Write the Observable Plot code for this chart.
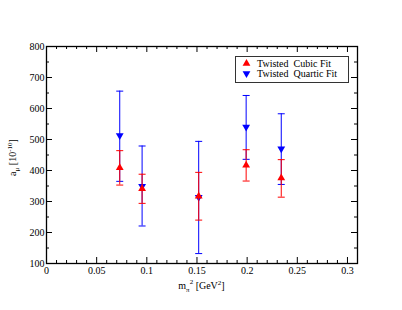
<!DOCTYPE html>
<html><head><meta charset="utf-8">
<script src="https://cdn.jsdelivr.net/npm/d3@7"></script>
<script src="https://cdn.jsdelivr.net/npm/@observablehq/plot@0.6"></script>
<style>body{margin:0;background:#fff} svg{display:block}</style>
</head><body><div id="chart"></div>
<script>
// data
const mpi2 = [0.073, 0.0953, 0.1517, 0.199, 0.234];
const cubic = [409, 341, 317, 417, 376];
const cubicLo = [353, 294, 240, 366, 314];
const cubicHi = [464, 388, 394, 467, 435];
const quartic = [513, 349, 314, 540, 470];
const quarticLo = [365, 221, 132, 436, 355];
const quarticHi = [656, 479, 494, 642, 583];
const seriesNames = ["Twisted  Cubic Fit", "Twisted  Quartic Fit"];
const xMajor = [0, 0.05, 0.1, 0.15, 0.2, 0.25, 0.3];
const xMinor = [0.01,0.02,0.03,0.04,0.06,0.07,0.08,0.09,0.11,0.12,0.13,0.14,0.16,0.17,0.18,0.19,0.21,0.22,0.23,0.24,0.26,0.27,0.28,0.29,0.31];
const yMajor = [100, 200, 300, 400, 500, 600, 700, 800];
const yMinor = [150, 250, 350, 450, 550, 650, 750];

const W = 402, H = 310, mL = 46, mR = 45, mT = 46, mB = 47;
const innerW = W - mL - mR, innerH = H - mT - mB;
const RED = "#ff0000", BLUE = "#0000ff";

const cubicRows = mpi2.map((x, i) => ({x, y: cubic[i], lo: cubicLo[i], hi: cubicHi[i]}));
const quartRows = mpi2.map((x, i) => ({x, y: quartic[i], lo: quarticLo[i], hi: quarticHi[i]}));

const cap = {draw(ctx) { ctx.moveTo(-3.5, 0); ctx.lineTo(3.5, 0); }};

function series(rows, color, rotate) {
  return [
    Plot.ruleX(rows, {x: "x", y1: "lo", y2: "hi", stroke: color, strokeWidth: 1}),
    Plot.dot(rows, {x: "x", y: "lo", symbol: cap, stroke: color, fill: "none", strokeWidth: 1}),
    Plot.dot(rows, {x: "x", y: "hi", symbol: cap, stroke: color, fill: "none", strokeWidth: 1}),
    Plot.dot(rows, {x: "x", y: "y", symbol: "triangle", rotate, fill: color, stroke: "none", r: 2.9})
  ];
}

const plot = Plot.plot({
  width: W, height: H,
  marginLeft: mL, marginRight: mR, marginTop: mT, marginBottom: mB,
  style: {fontFamily: "'Liberation Serif', 'Times New Roman', serif", fontSize: "10px", background: "#fff", color: "#000"},
  x: {domain: [0, 0.31]},
  y: {domain: [100, 800]},
  marks: [
    Plot.ruleX(xMinor, {insetTop: innerH - 3, stroke: "#000"}),
    Plot.ruleX(xMinor, {insetBottom: innerH - 3, stroke: "#000"}),
    Plot.ruleX(xMajor, {insetTop: innerH - 6, stroke: "#000"}),
    Plot.ruleX(xMajor, {insetBottom: innerH - 6, stroke: "#000"}),
    Plot.ruleY(yMinor, {insetRight: innerW - 3, stroke: "#000"}),
    Plot.ruleY(yMinor, {insetLeft: innerW - 3, stroke: "#000"}),
    Plot.ruleY(yMajor, {insetRight: innerW - 6, stroke: "#000"}),
    Plot.ruleY(yMajor, {insetLeft: innerW - 6, stroke: "#000"}),
    Plot.axisX(xMajor, {tickSize: 0, tickPadding: 3, tickFormat: d => String(d), label: null}),
    Plot.axisY(yMajor, {tickSize: 0, tickPadding: 2, label: null}),
    ...series(quartRows, BLUE, 180),
    ...series(cubicRows, RED, 0),
    Plot.frame({stroke: "#000", strokeWidth: 1.3})
  ]
});

const svg = d3.select(plot);
const font = "'Liberation Serif', 'Times New Roman', serif";

// x-axis title
const xt = svg.append("text").attr("x", mL + innerW / 2).attr("y", 289)
  .attr("text-anchor", "middle").attr("font-family", font).attr("font-size", 10).attr("fill", "#000");
xt.append("tspan").text("m");
xt.append("tspan").attr("font-size", 7).attr("dy", 3).text("π");
xt.append("tspan").attr("font-size", 7).attr("dy", -8).text("2");
xt.append("tspan").attr("dy", 5).text(" [GeV");
xt.append("tspan").attr("font-size", 7).attr("dy", -4).text("2");
xt.append("tspan").attr("dy", 4).text("]");

// y-axis title
const yt = svg.append("text").attr("transform", `translate(16,${mT + innerH / 2 + 3}) rotate(-90)`)
  .attr("text-anchor", "middle").attr("font-family", font).attr("font-size", 10).attr("fill", "#000");
yt.append("tspan").text("a");
yt.append("tspan").attr("font-size", 7).attr("dy", 3).text("μ");
yt.append("tspan").attr("dy", -3).text(" [10");
yt.append("tspan").attr("font-size", 7).attr("dy", -4).text("-10");
yt.append("tspan").attr("dy", 4).text("]");

// legend
const lg = svg.append("g");
lg.append("rect").attr("x", 235.5).attr("y", 56.5).attr("width", 113).attr("height", 26)
  .attr("fill", "#fff").attr("stroke", "#333").attr("stroke-width", 1);
[[RED, 0, 65], [BLUE, 180, 75]].forEach(([c, rot, y], i) => {
  lg.append("path").attr("d", d3.symbol(d3.symbolTriangle, Math.PI * 2.9 * 2.9)())
    .attr("transform", `translate(246.5,${y - 1.5}) rotate(${rot})`).attr("fill", c);
  lg.append("text").attr("x", 257).attr("y", y + 2).attr("text-anchor", "start").attr("font-family", font)
    .attr("font-size", 10).attr("fill", "#000").style("white-space", "pre").text(seriesNames[i]);
});

document.getElementById("chart").appendChild(plot);
</script>
</body></html>
